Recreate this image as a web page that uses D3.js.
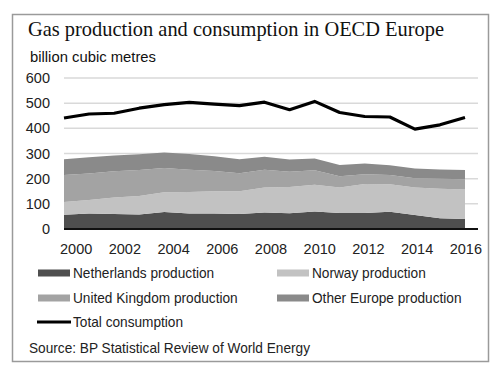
<!DOCTYPE html>
<html lang="en">
<head>
  <meta charset="UTF-8">
  <title>Gas production and consumption in OECD Europe</title>
  <script src="https://cdn.jsdelivr.net/npm/d3@7"></script>
  <style>
    body { margin: 0; background: #fff; }
    svg { display: block; }
  </style>
</head>
<body>
  <div id="chart"></div>
  <script>
    // values (billion cubic metres)
    const years = d3.range(2000, 2017);
    const netherlands = [57, 62, 60, 58, 68, 62, 62, 60, 66, 63, 70, 64, 64, 69, 56, 43, 40];
    const norway = [50, 53, 65, 73, 78, 85, 88, 90, 99, 104, 106, 101, 115, 109, 109, 117, 117];
    const uk = [108, 106, 104, 103, 96, 88, 80, 72, 70, 60, 57, 45, 39, 37, 37, 40, 41];
    const other = [62, 64, 63, 63, 62, 63, 59, 55, 52, 49, 47, 44, 42, 38, 38, 36, 36];
    const consumption = [441, 457, 460, 480, 494, 503, 496, 490, 504, 474, 507, 463, 447, 445, 397, 414, 443];
    const yTicks = [0, 100, 200, 300, 400, 500, 600];
    const xLabels = [2000, 2002, 2004, 2006, 2008, 2010, 2012, 2014, 2016];

    const series = [
      { key: 'netherlands', label: 'Netherlands production', color: '#4f4f4f' },
      { key: 'norway', label: 'Norway production', color: '#c2c2c2' },
      { key: 'uk', label: 'United Kingdom production', color: '#a3a3a3' },
      { key: 'other', label: 'Other Europe production', color: '#8a8a8a' }
    ];

    const rows = years.map((year, i) => ({
      year: year,
      netherlands: netherlands[i],
      norway: norway[i],
      uk: uk[i],
      other: other[i],
      total: consumption[i]
    }));

    const width = 500, height = 374;
    const sansFont = 'Liberation Sans, Arial, sans-serif';
    const svg = d3.select('#chart').append('svg')
      .attr('width', width)
      .attr('height', height);

    // squeeze text a little, the original uses a narrower Arial rendering
    const condense = (sel, k) => sel.each(function() {
      const w = this.getComputedTextLength();
      d3.select(this)
        .attr('textLength', w * k)
        .attr('lengthAdjust', 'spacingAndGlyphs');
    });

    // frame
    svg.append('rect')
      .attr('x', 12.5).attr('y', 14.5)
      .attr('width', 476).attr('height', 347)
      .attr('fill', '#fff')
      .attr('stroke', '#9a9a9a')
      .attr('stroke-width', 1.5);

    svg.append('text')
      .attr('x', 28).attr('y', 36)
      .attr('font-family', 'Liberation Serif, serif')
      .attr('font-size', 21)
      .attr('fill', '#111')
      .attr('textLength', 416)
      .attr('lengthAdjust', 'spacingAndGlyphs')
      .text('Gas production and consumption in OECD Europe');

    svg.append('text')
      .attr('x', 30).attr('y', 62)
      .attr('font-family', sansFont)
      .attr('font-size', 15)
      .attr('fill', '#111')
      .attr('textLength', 126)
      .attr('lengthAdjust', 'spacingAndGlyphs')
      .text('billion cubic metres');

    const x = d3.scaleLinear().domain([2000, 2016]).range([64, 465]);
    const xBand = d3.scaleBand().domain(years).range([64, 478]);
    const y = d3.scaleLinear().domain([0, 600]).range([229, 78]);

    // gridlines
    svg.append('g')
      .selectAll('line')
      .data(yTicks.filter(d => d > 0))
      .join('line')
      .attr('x1', 64).attr('x2', 478)
      .attr('y1', d => y(d)).attr('y2', d => y(d))
      .attr('stroke', '#d9d9d9')
      .attr('stroke-width', 1.5);

    // y labels
    svg.append('g')
      .selectAll('text')
      .data(yTicks)
      .join('text')
      .attr('x', 50)
      .attr('y', d => y(d))
      .attr('dy', '0.35em')
      .attr('text-anchor', 'end')
      .attr('font-family', sansFont)
      .attr('font-size', 14.5)
      .attr('fill', '#222')
      .text(d => d);

    // stacked areas
    const stacked = d3.stack().keys(series.map(s => s.key))(rows);
    const area = d3.area()
      .x(d => x(d.data.year))
      .y0(d => y(d[0]))
      .y1(d => y(d[1]));

    svg.append('g')
      .selectAll('path')
      .data(stacked)
      .join('path')
      .attr('d', area)
      .attr('fill', (d, i) => series[i].color);

    // zero axis
    svg.append('line')
      .attr('x1', 64).attr('x2', 478)
      .attr('y1', y(0)).attr('y2', y(0))
      .attr('stroke', '#111')
      .attr('stroke-width', 2);

    // consumption line
    const line = d3.line()
      .x(d => x(d.year))
      .y(d => y(d.total));

    svg.append('path')
      .datum(rows)
      .attr('d', line)
      .attr('fill', 'none')
      .attr('stroke', '#000')
      .attr('stroke-width', 3.2)
      .attr('stroke-linejoin', 'round');

    // x labels
    svg.append('g')
      .selectAll('text')
      .data(xLabels)
      .join('text')
      .attr('x', d => xBand(d) + xBand.bandwidth() / 2)
      .attr('y', 254)
      .attr('text-anchor', 'middle')
      .attr('font-family', sansFont)
      .attr('font-size', 14.5)
      .attr('fill', '#222')
      .text(d => d);

    // legend
    const legendPos = [
      { x: 38, y: 273 }, { x: 277, y: 273 },
      { x: 38, y: 298 }, { x: 277, y: 298 }
    ];
    const legend = svg.append('g')
      .selectAll('g')
      .data(series)
      .join('g')
      .attr('transform', (d, i) => `translate(${legendPos[i].x},${legendPos[i].y})`);

    legend.append('rect')
      .attr('x', 0).attr('y', -3.5)
      .attr('width', 32).attr('height', 7)
      .attr('fill', d => d.color);

    legend.append('text')
      .attr('x', 35)
      .attr('dy', '0.36em')
      .attr('font-family', sansFont)
      .attr('font-size', 15)
      .attr('fill', '#222')
      .text(d => d.label)
      .call(condense, 0.91);

    svg.append('line')
      .attr('x1', 37).attr('x2', 71)
      .attr('y1', 322).attr('y2', 322)
      .attr('stroke', '#000')
      .attr('stroke-width', 3);

    svg.append('text')
      .attr('x', 73).attr('y', 322)
      .attr('dy', '0.36em')
      .attr('font-family', sansFont)
      .attr('font-size', 15)
      .attr('fill', '#222')
      .text('Total consumption')
      .call(condense, 0.91);

    svg.append('text')
      .attr('x', 29).attr('y', 353)
      .attr('font-family', sansFont)
      .attr('font-size', 15)
      .attr('fill', '#222')
      .text('Source: BP Statistical Review of World Energy')
      .call(condense, 0.91);
  </script>
</body>
</html>
